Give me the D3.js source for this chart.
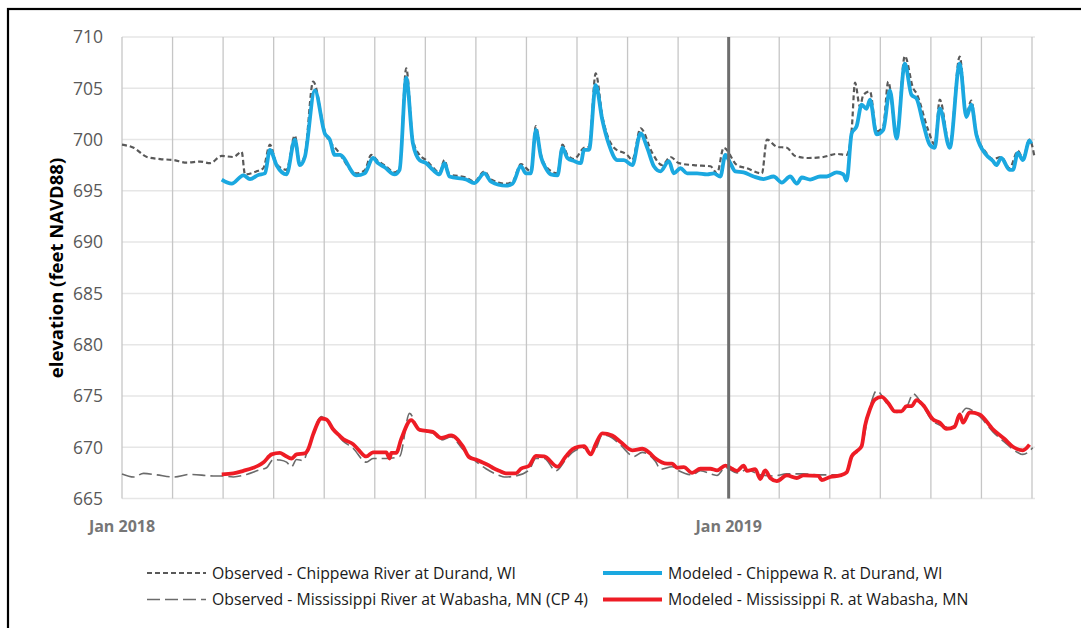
<!DOCTYPE html>
<html>
<head>
<meta charset="utf-8">
<script src="https://cdn.jsdelivr.net/npm/d3@7"></script>
<style>
  body { margin: 0; background: #fff; }
  svg { display: block; font-family: "Open Sans", sans-serif; }
</style>
</head>
<body>
<svg id="chart" width="1081" height="628"></svg>
<script>
// days counted from Jan 1 2018; one grid step = 365/12 days
let yTicks = [665, 670, 675, 680, 685, 690, 695, 700, 705, 710];
let xLabels = [{ step: 0, text: "Jan 2018" }, { step: 12, text: "Jan 2019" }];

let chipObs = [
  [0,699.5],[7,699.2],[15,698.3],[23,698.1],[31,698.0],[39,697.75],[47,697.85],[53,697.7],
  [60,698.4],[67,698.3],[72,698.8],[74,696.6],[81,696.9],[85,697.2],[89,699.5],[93,697.6],
  [99,697.05],[104,700.4],[107,697.6],[110,698.5],[115,705.65],[122,700.8],[130,698.85],
  [141,696.7],[146,697.0],[150,698.5],[154,697.9],[158,697.5],[164,696.8],[167,697.2],
  [171,706.95],[175,700.0],[179,698.5],[183,698.0],[187,697.3],[191,696.8],[194,698.0],
  [197,696.6],[207,696.3],[212,695.9],[218,696.9],[222,696.1],[231,695.7],[235,695.9],
  [240,697.6],[246,696.9],[249,701.3],[252,698.6],[255,697.4],[262,696.7],[265,699.5],
  [268,698.5],[272,698.1],[278,699.2],[281,699.3],[285,706.45],[289,702.3],[296,699.2],
  [304,698.5],[307,698.0],[312,701.1],[319,698.7],[325,697.5],[330,698.3],[335,697.7],
  [344,697.5],[354,697.4],[358,696.7],[362,699.2],[370,697.5],[376,697.2],[385,696.7],
  [388,700.0],[394,699.3],[400,699.2],[405,698.4],[413,698.2],[422,698.3],[430,698.6],
  [436,698.5],[439,700.95],[441,705.55],[444,703.2],[446,704.35],[450,704.7],[454,700.8],
  [458,701.3],[461,705.65],[466,700.3],[471,708.15],[476,705.0],[478,704.5],[485,700.95],
  [489,699.5],[492,703.9],[498,699.4],[504,708.1],[508,702.5],[511,703.8],[514,700.7],
  [520,698.7],[524,698.1],[529,698.3],[534,697.2],[539,698.9],[542,698.2],[546,700.0],[549,698.3]
];

let chipMod = [
  [60,696.1],[66,695.7],[73,696.5],[77,696.15],[82,696.55],[86,696.7],[89,699.0],[93,697.5],
  [99,696.6],[104,700.0],[107,697.5],[110,698.3],[116,704.8],[122,700.6],[125,700.0],
  [128,698.5],[131,698.5],[141,696.5],[146,696.7],[151,698.2],[154,697.7],[158,697.3],
  [164,696.6],[167,697.05],[171,706.0],[175,699.65],[179,698.0],[183,697.7],[187,697.05],
  [191,696.6],[194,697.7],[197,696.4],[207,696.1],[212,695.75],[218,696.7],[222,695.9],
  [231,695.5],[235,695.7],[240,697.4],[243,696.7],[246,696.7],[249,700.95],[252,698.35],
  [255,697.2],[258,696.6],[262,696.5],[265,699.2],[268,698.2],[272,697.9],[276,697.7],
  [278,699.0],[281,699.0],[285,705.3],[289,701.9],[293,699.5],[298,698.0],[302,698.0],
  [307,697.5],[312,700.6],[316,699.2],[320,697.4],[324,696.9],[329,697.9],[332,696.7],
  [336,697.2],[340,696.7],[346,696.7],[352,696.6],[356,696.7],[360,696.4],[363,698.5],
  [366,697.7],[369,696.9],[374,696.8],[380,696.4],[386,696.15],[392,696.4],[397,695.8],
  [402,696.4],[406,695.7],[409,696.3],[414,696.1],[420,696.4],[424,696.4],[430,696.8],
  [434,696.6],[436,696.0],[439,700.6],[442,701.3],[445,703.4],[448,703.0],[450,703.9],
  [454,700.5],[458,700.95],[462,704.8],[466,700.1],[471,707.4],[475,704.35],[478,704.0],
  [482,701.6],[486,699.5],[489,699.2],[492,703.05],[498,699.2],[504,707.4],[508,702.2],
  [511,703.4],[514,700.5],[520,698.5],[524,697.9],[526,697.5],[529,698.2],[534,697.05],
  [536,697.05],[539,698.7],[542,698.0],[546,699.9],[547,699.6]
];

let missObs = [
  [0,667.4],[7,667.1],[13,667.45],[21,667.3],[31,667.1],[41,667.35],[55,667.2],[60,667.2],
  [67,667.1],[75,667.35],[83,667.8],[87,668.0],[91,668.8],[95,668.75],[99,668.55],[102,668.1],
  [105,668.8],[109,668.7],[112,669.8],[120,673.0],[123,672.6],[133,670.6],[139,669.9],
  [147,668.55],[151,668.9],[159,668.9],[167,669.1],[173,673.3],[179,671.6],[187,671.4],
  [192,670.7],[198,671.0],[205,669.8],[213,668.6],[219,667.9],[227,667.25],[230,667.1],
  [237,667.2],[245,667.8],[249,668.9],[254,668.9],[261,667.7],[267,668.8],[271,669.5],
  [278,669.9],[282,669.4],[285,669.8],[289,671.2],[295,670.9],[300,670.2],[308,669.1],
  [313,669.5],[321,668.6],[324,667.85],[331,668.1],[335,667.7],[343,667.3],[348,667.7],
  [358,667.25],[363,668.0],[370,667.5],[376,667.8],[384,667.3],[392,667.2],[400,667.4],
  [410,667.4],[419,667.3],[432,667.3],[436,667.6],[439,669.0],[445,670.1],[450,673.9],
  [454,675.5],[461,674.1],[466,673.4],[472,673.9],[476,675.2],[482,674.0],[488,672.5],
  [499,671.9],[504,673.0],[508,673.8],[516,673.0],[524,671.5],[531,670.5],[536,669.8],
  [542,669.3],[548,669.95]
];

let missMod = [
  [60,667.35],[67,667.45],[73,667.7],[79,668.0],[82,668.2],[85,668.5],[90,669.3],[95,669.45],
  [98,669.2],[102,668.9],[105,669.3],[110,669.4],[112,669.8],[115,671.25],[120,672.8],
  [123,672.7],[127,671.75],[131,671.1],[133,670.8],[139,670.3],[142,669.8],[147,669.1],
  [151,669.5],[159,669.5],[161,668.9],[162,669.45],[165,669.45],[168,670.8],[174,672.65],
  [179,671.7],[187,671.5],[192,670.9],[198,671.15],[205,670.1],[209,669.0],[213,668.8],
  [215,668.65],[221,668.2],[223,668.0],[227,667.7],[231,667.45],[237,667.45],[240,667.9],
  [245,668.2],[249,669.15],[254,669.1],[262,668.1],[267,669.1],[271,669.8],[275,670.05],
  [278,670.1],[282,669.3],[285,670.3],[289,671.35],[295,671.15],[300,670.5],[307,669.7],
  [313,669.85],[317,669.5],[321,668.9],[328,668.4],[331,668.4],[334,668.0],[338,668.05],
  [343,667.5],[348,667.9],[354,667.9],[358,667.75],[363,668.2],[367,667.9],[370,667.7],
  [374,668.2],[376,667.7],[381,667.85],[384,666.9],[387,667.75],[390,667.0],[394,666.7],
  [400,667.25],[406,667.0],[410,667.25],[419,667.2],[421,666.8],[426,667.1],[432,667.25],
  [436,667.55],[439,669.1],[442,669.6],[445,670.1],[447,672.05],[450,673.7],[453,674.65],
  [457,674.9],[461,674.3],[465,673.5],[469,673.5],[472,674.0],[475,674.0],[478,674.6],
  [482,674.1],[488,672.7],[492,672.4],[496,671.8],[501,672.0],[504,673.2],[506,672.4],
  [510,673.4],[516,673.2],[524,671.75],[531,670.8],[536,670.05],[542,669.7],[546,670.25]
];

let legendItems = [
  { text: "Observed - Chippewa River at Durand, WI", col: 0, row: 0, color: "#595959", width: 2.2, dash: "5,3" },
  { text: "Observed - Mississippi River at Wabasha, MN (CP 4)", col: 0, row: 1, color: "#6b6b6b", width: 1.6, dash: "13,5" },
  { text: "Modeled - Chippewa R. at Durand, WI", col: 1, row: 0, color: "#1ba8e0", width: 3.8, dash: null },
  { text: "Modeled - Mississippi R. at Wabasha, MN", col: 1, row: 1, color: "#ee1c25", width: 3.8, dash: null }
];

const svg = d3.select("#chart");
const stepDays = 365 / 12;
const nSteps = 18;

// frame
svg.append("rect").attr("x", 8).attr("y", 9).attr("width", 1100).attr("height", 650)
  .attr("fill", "none").attr("stroke", "#000").attr("stroke-width", 2.2);

const x = d3.scaleLinear().domain([0, nSteps * stepDays]).range([122, 1032]);
const y = d3.scaleLinear().domain([665, 710]).range([498.5, 37]);

// horizontal grid
svg.append("g").selectAll("line").data(yTicks).enter().append("line")
  .attr("x1", x(0)).attr("x2", 1035)
  .attr("y1", d => y(d)).attr("y2", d => y(d))
  .attr("stroke", "#e6e6e6").attr("stroke-width", 1.5);

// vertical grid
svg.append("g").selectAll("line").data(d3.range(0, nSteps + 1)).enter().append("line")
  .attr("x1", d => x(d * stepDays)).attr("x2", d => x(d * stepDays))
  .attr("y1", y(710)).attr("y2", y(665))
  .attr("stroke", "#c6c6c6").attr("stroke-width", 1.3);

// y tick labels
svg.append("g").selectAll("text").data(yTicks).enter().append("text")
  .attr("x", 103).attr("y", d => y(d)).attr("dy", "0.36em")
  .attr("text-anchor", "end").attr("font-size", 17.5).attr("fill", "#595959")
  .text(d => d);

// x labels
svg.append("g").selectAll("text").data(xLabels).enter().append("text")
  .attr("x", d => x(d.step * stepDays)).attr("y", 526).attr("dy", "0.36em")
  .attr("text-anchor", "middle").attr("font-size", 16).attr("font-weight", "bold")
  .attr("fill", "#767676").text(d => d.text);

// y title
svg.append("text")
  .attr("transform", "translate(56,268) rotate(-90)")
  .attr("text-anchor", "middle").attr("dy", "0.36em")
  .attr("font-size", 18.5).attr("font-weight", "bold").attr("fill", "#000")
  .text("elevation (feet NAVD88)");

const line = d3.line()
  .x(d => x(d[0]))
  .y(d => y(d[1]))
  .curve(d3.curveMonotoneX);

function drawSeries(data, item) {
  svg.append("path").datum(data)
    .attr("d", line)
    .attr("fill", "none")
    .attr("stroke", item.color)
    .attr("stroke-width", item.width)
    .attr("stroke-linejoin", "round")
    .attr("stroke-dasharray", item.dash);
}

drawSeries(chipObs, legendItems[0]);
drawSeries(missObs, legendItems[1]);
drawSeries(chipMod, legendItems[2]);
drawSeries(missMod, legendItems[3]);

// Jan 2019 marker
svg.append("line")
  .attr("x1", x(12 * stepDays)).attr("x2", x(12 * stepDays))
  .attr("y1", y(710)).attr("y2", y(665))
  .attr("stroke", "#6e6e6e").attr("stroke-width", 3);

// legend
const colX = [147, 603];
const rowY = [573, 599.5];
const lg = svg.append("g").selectAll("g").data(legendItems).enter().append("g")
  .attr("transform", d => "translate(" + colX[d.col] + "," + rowY[d.row] + ")");
lg.append("line")
  .attr("x1", 0).attr("x2", 59)
  .attr("y1", 0).attr("y2", 0)
  .attr("stroke", d => d.color)
  .attr("stroke-width", d => d.width)
  .attr("stroke-dasharray", d => d.dash);
lg.append("text")
  .attr("x", 65).attr("y", 0).attr("dy", "0.35em")
  .attr("font-size", 15.8).attr("fill", "#1a1a1a")
  .text(d => d.text);
</script>
</body>
</html>
